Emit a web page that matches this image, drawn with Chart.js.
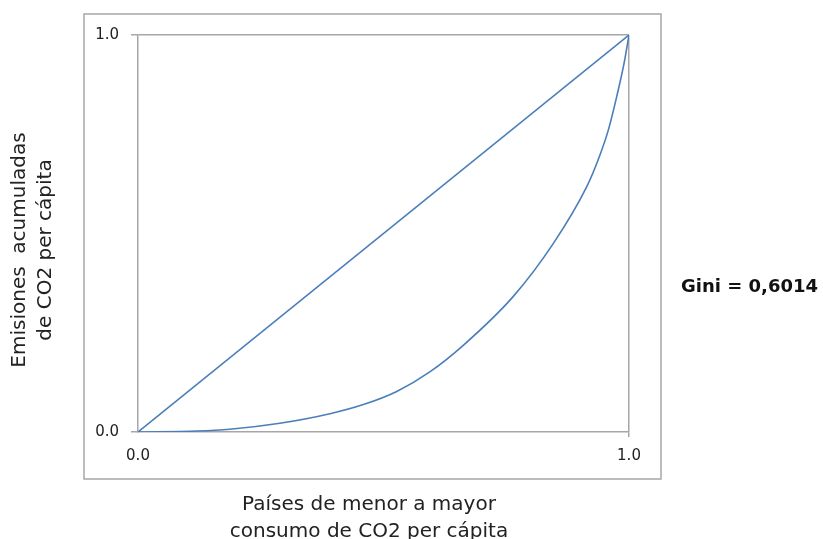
<!DOCTYPE html>
<html>
<head>
<meta charset="utf-8">
<script src="https://cdn.jsdelivr.net/npm/chart.js@4/dist/chart.umd.min.js"></script>
<style>
  body { margin: 0; background: #fff; }
  canvas { display: block; }
</style>
</head>
<body>
<canvas id="gini" width="823" height="539"></canvas>
<script>
// Lorenz curve
var lorenzX = [0, 0.120, 0.187, 0.289, 0.391, 0.459, 0.527, 0.595, 0.663, 0.764, 0.846, 0.914, 0.937, 0.958, 0.975, 0.990, 1];
var lorenzY = [0, 0.0025, 0.007, 0.022, 0.046, 0.069, 0.102, 0.152, 0.219, 0.341, 0.475, 0.618, 0.685, 0.761, 0.845, 0.929, 1];
var equalityX = [0, 1];
var equalityY = [0, 1];
var tickValues = [0, 1];
var tickLabels = ['0.0', '1.0'];
var xTitle = ['Países de menor a mayor', 'consumo de CO2 per cápita'];
var yTitle = ['Emisiones  acumuladas', 'de CO2 per cápita'];
var giniText = 'Gini = 0,6014';

var GRAY = '#a6a6a6';
var BLUE = '#4a7ebb';
var FONT = '"DejaVu Sans", Verdana, sans-serif';

function toPoints(xs, ys) {
  return xs.map(function (x, i) { return { x: x, y: ys[i] }; });
}

var decorations = {
  id: 'decorations',
  beforeDraw: function (chart) {
    var ctx = chart.ctx;
    ctx.save();
    ctx.strokeStyle = GRAY;
    ctx.lineWidth = 1.5;
    ctx.strokeRect(84, 14, 577, 465);
    ctx.restore();
  },
  afterDraw: function (chart) {
    var ctx = chart.ctx;
    ctx.save();
    ctx.fillStyle = '#222';
    ctx.font = '20px ' + FONT;
    ctx.textAlign = 'center';
    ctx.textBaseline = 'alphabetic';
    ctx.fillText(xTitle[0], 369, 510);
    ctx.fillText(xTitle[1], 369, 537);

    ctx.translate(0, 250);
    ctx.rotate(-Math.PI / 2);
    ctx.fillText(yTitle[0], 0, 25);
    ctx.fillText(yTitle[1], 0, 51);
    ctx.restore();

    ctx.save();
    ctx.fillStyle = '#111';
    ctx.font = 'bold 18px ' + FONT;
    ctx.textAlign = 'left';
    ctx.textBaseline = 'middle';
    ctx.fillText(giniText, 681, 287);
    ctx.restore();
  }
};

function fixedTicks(scale) {
  scale.ticks = tickValues.map(function (v) { return { value: v }; });
}

new Chart(document.getElementById('gini').getContext('2d'), {
  type: 'scatter',
  data: {
    datasets: [{
      data: toPoints(equalityX, equalityY),
      showLine: true,
      borderColor: BLUE,
      borderWidth: 1.6,
      pointRadius: 0
    }, {
      data: toPoints(lorenzX, lorenzY),
      showLine: true,
      borderColor: BLUE,
      borderWidth: 1.6,
      pointRadius: 0,
      cubicInterpolationMode: 'monotone'
    }]
  },
  options: {
    responsive: false,
    animation: false,
    devicePixelRatio: 1,
    layout: { padding: { left: 0, top: 35, right: 194, bottom: 0 } },
    plugins: { legend: { display: false }, tooltip: { enabled: false } },
    scales: {
      x: {
        type: 'linear', min: 0, max: 1,
        afterBuildTicks: fixedTicks,
        afterFit: function (s) { s.height = 107; },
        border: { color: GRAY, width: 1.5 },
        grid: {
          color: function (c) { return c.tick && c.tick.value === 1 ? GRAY : 'rgba(0,0,0,0)'; },
          tickColor: function (c) { return c.tick && c.tick.value === 1 ? GRAY : 'rgba(0,0,0,0)'; },
          lineWidth: 1.5,
          tickLength: 5
        },
        ticks: {
          color: '#222',
          font: { family: FONT, size: 15 },
          padding: 10,
          maxRotation: 0,
          callback: function (v, i) { return tickLabels[i]; }
        }
      },
      y: {
        type: 'linear', min: 0, max: 1,
        afterBuildTicks: fixedTicks,
        afterFit: function (s) { s.width = 138; },
        border: { color: GRAY, width: 1.5 },
        grid: {
          color: function (c) { return c.tick && c.tick.value === 1 ? GRAY : 'rgba(0,0,0,0)'; },
          tickColor: GRAY,
          lineWidth: 1.5,
          tickLength: 7
        },
        ticks: {
          color: '#222',
          font: { family: FONT, size: 15 },
          padding: 12,
          callback: function (v, i) { return tickLabels[i]; }
        }
      }
    }
  },
  plugins: [decorations]
});
</script>
</body>
</html>
